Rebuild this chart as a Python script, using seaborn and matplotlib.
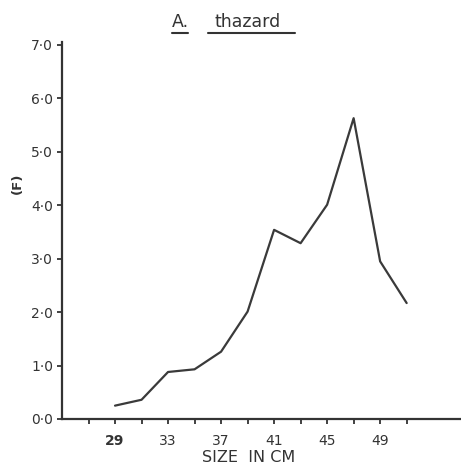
import matplotlib
matplotlib.use("Agg")
import matplotlib.pyplot as plt
import seaborn as sns
import pandas as pd
from matplotlib.lines import Line2D

# Data
size_cm = [29, 31, 33, 35, 37, 39, 41, 43, 45, 47, 49, 51]
freq_f = [0.25, 0.36, 0.88, 0.93, 1.26, 2.01, 3.54, 3.29, 4.01, 5.63, 2.95, 2.17]
x_ticks = [27, 29, 31, 33, 35, 37, 39, 41, 43, 45, 47, 49, 51]
x_labels = ["", "29", "", "33", "", "37", "", "41", "", "45", "", "49", ""]
y_ticks = [0, 1, 2, 3, 4, 5, 6, 7]
y_labels = ["0·0", "1·0", "2·0", "3·0", "4·0", "5·0", "6·0", "7·0"]

sns.set_style("ticks")
plt.rcParams['font.family'] = ['DejaVu Sans']

W, H = 461, 467
fig = plt.figure(figsize=(W / 100, H / 100), dpi=100)
fig.patch.set_facecolor("white")

left, bottom = 62 / W, 48 / H
ax = fig.add_axes([left, bottom, 1 - left, 376.7 / H])

df = pd.DataFrame({"size": size_cm, "F": freq_f})
sns.lineplot(data=df, x="size", y="F", ax=ax, color="#3a3a3a", linewidth=1.6)

ax.set_xlim(25, 55.1)
ax.set_ylim(0, 7.05)
ax.set_xticks(x_ticks)
ax.set_xticklabels(x_labels, fontsize=10, color="#333333")
ax.set_yticks(y_ticks)
ax.set_yticklabels(y_labels, fontsize=10, color="#333333")
ax.tick_params(axis="x", length=3.5, width=1.3, pad=7, colors="#333333")
ax.tick_params(axis="y", length=3.5, width=1.3, pad=3, colors="#333333")
for lbl in ax.get_xticklabels():
    if lbl.get_text() == "29":
        lbl.set_fontweight("bold")
ax.set_xlabel("")
ax.set_ylabel("")
sns.despine(ax=ax)
for s in ("left", "bottom"):
    ax.spines[s].set_linewidth(1.6)
    ax.spines[s].set_color("#333333")

fig.text(249 / W, 1 - 457 / H, "SIZE  IN CM", ha="center", va="center",
         fontsize=11.5, color="#333333")
fig.text(17 / W, 1 - 183 / H, "(F)", ha="center", va="center", rotation=90,
         fontsize=9.5, color="#333333", fontweight="bold")

# Title with underlines
fig.text(180 / W, 1 - 22 / H, "A.", ha="center", va="center", fontsize=12.5,
         color="#333333")
fig.text(248 / W, 1 - 22 / H, "thazard", ha="center", va="center", fontsize=12.5,
         color="#333333")
fig.add_artist(Line2D([172 / W, 188 / W], [1 - 33 / H, 1 - 33 / H],
                      transform=fig.transFigure, color="#333333", linewidth=1.5))
fig.add_artist(Line2D([208 / W, 295 / W], [1 - 33 / H, 1 - 33 / H],
                      transform=fig.transFigure, color="#333333", linewidth=1.5))

fig.savefig("out.png", dpi=100, facecolor="white")
